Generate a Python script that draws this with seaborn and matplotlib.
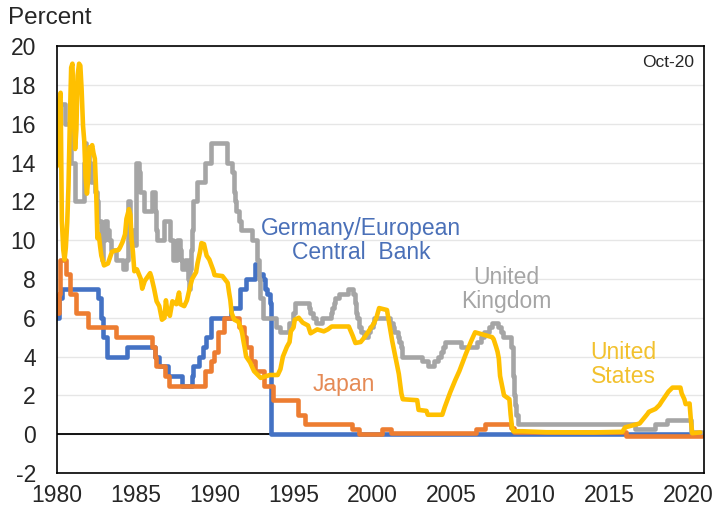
import matplotlib
matplotlib.use('Agg')
import pandas as pd
import matplotlib.pyplot as plt
import seaborn as sns

# policy rates, percent (dates as decimal years)
us_year = [1980.00, 1980.08, 1980.17, 1980.25, 1980.33, 1980.42, 1980.50, 1980.58, 1980.67, 1980.75,
           1980.83, 1980.92, 1981.00, 1981.08, 1981.17, 1981.25, 1981.33, 1981.42, 1981.50, 1981.58,
           1981.67, 1981.75, 1981.83, 1981.92, 1982.00, 1982.08, 1982.17, 1982.25, 1982.33, 1982.42,
           1982.50, 1982.58, 1982.67, 1982.75, 1982.83, 1982.92, 1983.00, 1983.25, 1983.50, 1983.67,
           1983.92, 1984.00, 1984.17, 1984.33, 1984.42, 1984.58, 1984.67, 1984.75, 1984.83, 1984.92,
           1985.08, 1985.33, 1985.42, 1985.58, 1985.92, 1986.00, 1986.17, 1986.33, 1986.50, 1986.67,
           1986.83, 1986.92, 1987.00, 1987.17, 1987.33, 1987.58, 1987.75, 1987.83, 1988.08, 1988.25,
           1988.42, 1988.58, 1988.83, 1988.92, 1989.08, 1989.17, 1989.33, 1989.50, 1989.67, 1989.92,
           1990.00, 1990.50, 1990.83, 1990.92, 1991.00, 1991.08, 1991.25, 1991.50, 1991.67, 1991.75,
           1991.83, 1991.92, 1992.00, 1992.25, 1992.50, 1992.92, 1993.50, 1994.00, 1994.17, 1994.33,
           1994.58, 1994.75, 1994.83, 1995.00, 1995.08, 1995.33, 1995.58, 1995.92, 1996.08, 1996.50,
           1996.92, 1997.17, 1997.42, 1998.50, 1998.75, 1998.92, 1999.25, 1999.50, 1999.83, 2000.08,
           2000.25, 2000.42, 2000.92, 2001.00, 2001.25, 2001.50, 2001.67, 2001.83, 2001.92, 2002.83,
           2002.92, 2003.42, 2003.50, 2004.42, 2004.58, 2004.92, 2005.25, 2005.50, 2005.92, 2006.25,
           2006.50, 2007.58, 2007.67, 2007.83, 2007.92, 2008.00, 2008.08, 2008.25, 2008.33, 2008.67,
           2008.75, 2008.83, 2008.92, 2009.50, 2011.00, 2014.00, 2015.83, 2015.92, 2016.00, 2016.92,
           2017.17, 2017.42, 2017.50, 2017.92, 2018.17, 2018.33, 2018.50, 2018.75, 2019.00, 2019.50,
           2019.58, 2019.75, 2019.83, 2020.08, 2020.17, 2020.25, 2020.75]
us_rate = [13.8, 14.1, 17.2, 17.6, 11.0, 9.5, 9.0, 9.6, 10.9, 12.8,
           15.9, 18.9, 19.1, 16.6, 14.7, 15.7, 18.5, 19.1, 19.0, 17.8,
           15.9, 15.1, 13.3, 12.4, 13.2, 14.8, 14.7, 14.9, 14.5, 14.2,
           12.6, 10.1, 10.3, 9.7, 9.2, 8.95, 8.7, 8.8, 9.4, 9.45,
           9.5, 9.6, 9.9, 10.3, 11.1, 11.6, 11.3, 10.0, 9.4, 8.4,
           8.5, 8.0, 7.5, 7.9, 8.3, 8.1, 7.5, 6.85, 6.6, 5.9,
           6.0, 6.9, 6.4, 6.1, 6.85, 6.7, 7.3, 6.7, 6.6, 6.9,
           7.5, 8.0, 8.35, 8.8, 9.4, 9.85, 9.8, 9.2, 9.0, 8.45,
           8.2, 8.15, 7.8, 7.3, 6.9, 6.25, 5.9, 5.8, 5.45, 5.2,
           4.8, 4.4, 4.0, 3.7, 3.25, 2.9, 3.05, 3.05, 3.35, 4.0,
           4.5, 4.75, 5.3, 5.5, 5.9, 6.0, 5.75, 5.6, 5.2, 5.4,
           5.3, 5.4, 5.55, 5.55, 5.07, 4.7, 4.75, 5.0, 5.4, 5.7,
           6.0, 6.5, 6.4, 6.0, 4.8, 3.8, 3.1, 2.1, 1.8, 1.75,
           1.25, 1.2, 1.0, 1.0, 1.4, 2.15, 2.8, 3.25, 4.15, 4.8,
           5.25, 5.0, 4.9, 4.5, 4.25, 3.9, 3.0, 2.3, 2.0, 1.8,
           1.0, 0.4, 0.15, 0.15, 0.1, 0.09, 0.12, 0.25, 0.35, 0.55,
           0.8, 1.05, 1.15, 1.3, 1.5, 1.7, 1.9, 2.2, 2.4, 2.4,
           2.1, 1.8, 1.55, 1.58, 0.65, 0.05, 0.09]

uk_year = [1980.00, 1980.54, 1980.90, 1981.19, 1981.71, 1981.79, 1981.88, 1982.04, 1982.20, 1982.45,
           1982.55, 1982.62, 1982.79, 1982.87, 1982.96, 1983.04, 1983.21, 1983.29, 1983.46, 1983.79,
           1984.21, 1984.37, 1984.54, 1984.62, 1984.87, 1985.04, 1985.21, 1985.29, 1985.54, 1986.04,
           1986.21, 1986.29, 1986.38, 1986.79, 1987.21, 1987.37, 1987.62, 1987.79, 1987.87, 1987.96,
           1988.12, 1988.29, 1988.37, 1988.45, 1988.50, 1988.55, 1988.62, 1988.87, 1989.37, 1989.79,
           1990.79, 1991.12, 1991.20, 1991.29, 1991.37, 1991.54, 1991.70, 1992.37, 1992.71, 1992.79,
           1992.87, 1993.04, 1993.87, 1994.12, 1994.71, 1994.96, 1995.12, 1995.96, 1996.04, 1996.21,
           1996.45, 1996.79, 1997.37, 1997.45, 1997.54, 1997.62, 1997.87, 1998.45, 1998.79, 1998.87,
           1998.96, 1999.04, 1999.12, 1999.29, 1999.45, 1999.71, 1999.87, 2000.04, 2000.12, 2001.12,
           2001.29, 2001.37, 2001.62, 2001.71, 2001.79, 2001.87, 2003.12, 2003.54, 2003.87, 2004.12,
           2004.37, 2004.45, 2004.62, 2005.62, 2006.62, 2006.87, 2007.04, 2007.37, 2007.54, 2007.96,
           2008.12, 2008.29, 2008.79, 2008.87, 2008.96, 2009.04, 2009.12, 2009.20, 2016.62, 2017.87,
           2018.62, 2020.20, 2020.85]
uk_rate = [17, 16, 14, 12, 14, 15, 14.5, 14, 13, 12.5,
           12, 11, 10, 9, 10, 11, 10.5, 10, 9.5, 9,
           8.5, 9, 12, 10.5, 9.75, 14, 13.5, 12.5, 11.5, 12.5,
           11.5, 10.5, 10, 11, 10, 9, 10, 9.5, 9, 8.5,
           9, 8, 7.5, 8.5, 9.5, 10.5, 12, 13, 14, 15,
           14, 13.5, 12.5, 12, 11.5, 11, 10.5, 10, 9, 8,
           7, 6, 5.5, 5.25, 5.75, 6.25, 6.75, 6.5, 6.25, 6,
           5.75, 6, 6.25, 6.5, 6.75, 7, 7.25, 7.5, 7.25, 6.75,
           6.25, 6, 5.5, 5.25, 5, 5.25, 5.5, 5.75, 6, 5.75,
           5.5, 5.25, 5, 4.75, 4.5, 4, 3.75, 3.5, 3.75, 4,
           4.25, 4.5, 4.75, 4.5, 4.75, 5, 5.25, 5.5, 5.75, 5.5,
           5.25, 5, 4.5, 3, 2, 1.5, 1, 0.5, 0.25, 0.5,
           0.75, 0.1, 0.1]

jp_year = [1980.00, 1980.12, 1980.21, 1980.62, 1980.87, 1981.21, 1981.96, 1983.79, 1986.04, 1986.21,
           1986.29, 1986.87, 1987.12, 1989.37, 1989.79, 1989.96, 1990.21, 1990.62, 1991.54, 1991.87,
           1991.96, 1992.29, 1992.54, 1993.12, 1993.71, 1995.29, 1995.71, 1998.71, 1999.12, 2000.62,
           2001.20, 2006.54, 2007.12, 2008.79, 2008.96, 2016.08, 2020.85]
jp_rate = [6.25, 7.25, 9.0, 8.25, 7.25, 6.25, 5.5, 5.0, 4.5, 4.0,
           3.5, 3.0, 2.5, 3.25, 3.75, 4.25, 5.25, 6.0, 5.5, 5.0,
           4.5, 3.75, 3.25, 2.5, 1.75, 1.0, 0.5, 0.25, 0.03, 0.25,
           0.05, 0.25, 0.5, 0.3, 0.1, -0.1, -0.1]

de_year = [1980.00, 1980.12, 1980.37, 1982.62, 1982.79, 1982.96, 1983.21, 1984.46, 1986.21, 1986.50,
           1987.04, 1987.96, 1988.54, 1988.62, 1989.04, 1989.29, 1989.46, 1989.79, 1991.04, 1991.62,
           1991.96, 1992.54, 1992.71, 1993.08, 1993.21, 1993.29, 1993.50, 1993.55, 2020.85]
de_rate = [6.0, 7.0, 7.5, 7.0, 6.0, 5.0, 4.0, 4.5, 4.0, 3.5,
           3.0, 2.5, 3.0, 3.5, 4.0, 4.5, 5.0, 6.0, 6.5, 7.5,
           8.0, 8.75, 8.25, 8.0, 7.5, 7.25, 6.75, 0.0, 0.0]

blue = '#4472C4'
orange = '#ED7D31'
gray = '#A5A5A5'
gold = '#FFC000'

sns.set_style('white')
plt.rcParams['font.family'] = ['Liberation Sans', 'DejaVu Sans']
plt.rcParams['axes.unicode_minus'] = False

fig, ax = plt.subplots(figsize=(7.17, 5.08), dpi=100)
fig.subplots_adjust(left=0.079, right=0.982, bottom=0.069, top=0.909)

lw = 3.3
ax.axhline(0, color='black', lw=1.3, zorder=1.5)
sns.lineplot(x=de_year, y=de_rate, color=blue, lw=lw, drawstyle='steps-post',
             estimator=None, sort=False, ax=ax)
sns.lineplot(x=jp_year, y=jp_rate, color=orange, lw=lw, drawstyle='steps-post',
             estimator=None, sort=False, ax=ax)
sns.lineplot(x=uk_year, y=uk_rate, color=gray, lw=lw, drawstyle='steps-post',
             estimator=None, sort=False, ax=ax)
sns.lineplot(x=us_year, y=us_rate, color=gold, lw=lw,
             estimator=None, sort=False, ax=ax)

ax.set_xlim(1980, 2021)
ax.set_ylim(-2, 20)
ax.set_xticks(range(1980, 2021, 5))
ax.set_yticks(range(-2, 21, 2))
ax.set_xlabel('')
ax.set_ylabel('')
ax.yaxis.grid(True, color='#E6E6E6', lw=1)
ax.set_axisbelow(True)
ax.tick_params(axis='both', direction='in', length=5, width=1, color='black', labelsize=16.5)
ax.tick_params(axis='y', pad=15)
ax.tick_params(axis='x', pad=8)
for s in ax.spines.values():
    s.set_color('black')
    s.set_linewidth(1.2)

ax.text(1999.3, 10.0, 'Germany/European\nCentral  Bank', color='#4A70B8', fontsize=16.5,
        ha='center', va='center', linespacing=1.05)
ax.text(2008.5, 7.45, 'United\nKingdom', color=gray, fontsize=16.5,
        ha='center', va='center', linespacing=1.05)
ax.text(1998.2, 2.55, 'Japan', color='#E58A55', fontsize=16.5, ha='center', va='center')
ax.text(2015.9, 3.6, 'United\nStates', color='#F2C12E', fontsize=16.5,
        ha='center', va='center', linespacing=1.05)
ax.text(0.985, 0.962, 'Oct-20', transform=ax.transAxes, fontsize=12.5, ha='right', va='center')
fig.text(0.011, 0.965, 'Percent', fontsize=17.5, ha='left', va='center')

fig.savefig('out.png', dpi=100)
